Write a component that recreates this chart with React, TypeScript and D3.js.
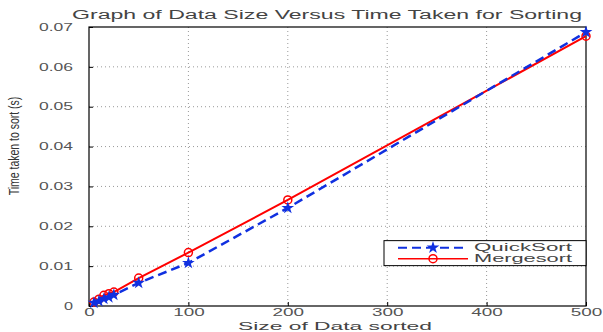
import React, { useEffect, useRef } from 'react';
import * as d3 from 'd3';

const sizes = [5, 10, 15, 20, 25, 50, 100, 200, 500];
const quickSort = [0.0008, 0.0012, 0.0018, 0.0022, 0.0028, 0.0058, 0.0108, 0.0246, 0.0687];
const mergeSort = [0.001, 0.0017, 0.0027, 0.0031, 0.0035, 0.007, 0.0134, 0.0266, 0.0677];
const xTicks = [0, 100, 200, 300, 400, 500];
const yTicks = [0, 0.01, 0.02, 0.03, 0.04, 0.05, 0.06, 0.07];

const App = () => {
  const ref = useRef<SVGSVGElement>(null);

  useEffect(() => {
    const svg = d3.select(ref.current);
    svg.selectAll('*').remove();

    const margin = { top: 27, right: 17, bottom: 26, left: 89 };
    const width = 603 - margin.left - margin.right;
    const height = 332 - margin.top - margin.bottom;
    const font = 'Liberation Sans, Arial, sans-serif';

    const x = d3.scaleLinear().domain([0, 500]).range([0, width]);
    const y = d3.scaleLinear().domain([0, 0.07]).range([height, 0]);

    const g = svg.append('g').attr('transform', `translate(${margin.left},${margin.top})`);

    // grid
    g.selectAll('.gx')
      .data(xTicks.slice(1, -1))
      .enter()
      .append('line')
      .attr('x1', d => x(d)).attr('x2', d => x(d))
      .attr('y1', 0).attr('y2', height)
      .attr('stroke', '#999').attr('stroke-dasharray', '1,3');
    g.selectAll('.gy')
      .data(yTicks.slice(1, -1))
      .enter()
      .append('line')
      .attr('y1', d => y(d)).attr('y2', d => y(d))
      .attr('x1', 0).attr('x2', width)
      .attr('stroke', '#999').attr('stroke-dasharray', '1,3');

    // axes (ticks inward, wide lettering like the original)
    const ax = g.append('g').attr('transform', `translate(0,${height})`)
      .call(d3.axisBottom(x).tickValues(xTicks).tickSize(-4).tickPadding(3).tickFormat(d3.format('d')));
    const ay = g.append('g')
      .call(d3.axisLeft(y).tickValues(yTicks).tickSize(-4).tickPadding(16).tickFormat(d => (d === 0 ? '0' : d3.format('.2f')(d as number))));
    [ax, ay].forEach(a => {
      a.select('.domain').remove();
      a.selectAll('line').attr('stroke', '#000');
      a.selectAll('text').attr('font-family', font).attr('font-size', 10).attr('fill', '#555')
        .attr('lengthAdjust', 'spacingAndGlyphs');
    });
    ax.selectAll('text').attr('textLength', (d: any) => String(d).length * 10.5);
    ay.selectAll('text').attr('textLength', (d: any) => (d === 0 ? 9 : 34));

    g.append('rect').attr('width', width).attr('height', height)
      .attr('fill', 'none').attr('stroke', '#000').attr('stroke-width', 1.2);

    const qData = sizes.map((s, i) => [s, quickSort[i]] as [number, number]);
    const mData = sizes.map((s, i) => [s, mergeSort[i]] as [number, number]);
    const line = d3.line<[number, number]>().x(d => x(d[0])).y(d => y(d[1]));

    g.append('path').datum(mData).attr('fill', 'none').attr('stroke', '#f00').attr('stroke-width', 2).attr('d', line);
    g.selectAll('.mdot').data(mData).enter().append('circle')
      .attr('cx', d => x(d[0])).attr('cy', d => y(d[1])).attr('r', 4)
      .attr('fill', 'none').attr('stroke', '#f00').attr('stroke-width', 1.5);

    g.append('path').datum(qData).attr('fill', 'none').attr('stroke', '#1030e0').attr('stroke-width', 2.5)
      .attr('stroke-dasharray', '9,5').attr('d', line);
    const star = d3.symbol().type(d3.symbolStar).size(50);
    g.selectAll('.qdot').data(qData).enter().append('path')
      .attr('transform', d => `translate(${x(d[0])},${y(d[1])})`)
      .attr('d', star).attr('fill', '#1030e0');

    // legend
    const lg = g.append('g').attr('transform', `translate(${x(500) - 202},${y(0.0164)})`);
    lg.append('rect').attr('width', 202).attr('height', 25).attr('fill', '#fff').attr('stroke', '#000').attr('stroke-width', 1);
    lg.append('line').attr('x1', 14).attr('x2', 84).attr('y1', 7).attr('y2', 7)
      .attr('stroke', '#1030e0').attr('stroke-width', 2).attr('stroke-dasharray', '9,5');
    lg.append('path').attr('transform', 'translate(49,7)').attr('d', star).attr('fill', '#1030e0');
    lg.append('line').attr('x1', 14).attr('x2', 84).attr('y1', 18).attr('y2', 18)
      .attr('stroke', '#f00').attr('stroke-width', 1.5);
    lg.append('circle').attr('cx', 49).attr('cy', 18).attr('r', 4).attr('fill', 'none').attr('stroke', '#f00').attr('stroke-width', 1.5);
    [['QuickSort', 7], ['Mergesort', 18]].forEach(([t, yy]) => {
      lg.append('text').attr('x', 90).attr('y', yy as number).attr('dy', '0.36em')
        .attr('font-family', font).attr('font-size', 10.5).attr('fill', '#444')
        .attr('textLength', 98).attr('lengthAdjust', 'spacingAndGlyphs').text(t as string);
    });

    // titles
    svg.append('text').attr('x', 327).attr('y', 19).attr('text-anchor', 'middle')
      .attr('font-family', font).attr('font-size', 12.5).attr('fill', '#444')
      .attr('textLength', 510).attr('lengthAdjust', 'spacingAndGlyphs')
      .text('Graph of Data Size Versus Time Taken for Sorting');
    svg.append('text').attr('x', 335).attr('y', 330).attr('text-anchor', 'middle')
      .attr('font-family', font).attr('font-size', 11.5).attr('fill', '#444')
      .attr('textLength', 194).attr('lengthAdjust', 'spacingAndGlyphs')
      .text('Size of Data sorted');
    svg.append('text').attr('transform', 'translate(19,146) rotate(-90) scale(0.75,1)').attr('text-anchor', 'middle')
      .attr('font-family', font).attr('font-size', 14).attr('fill', '#333')
      .text('Time taken to sort (s)');
  }, []);

  return <svg ref={ref} width={603} height={332} style={{ position: 'absolute', left: 0, top: 0 }} />;
};

export default App;
